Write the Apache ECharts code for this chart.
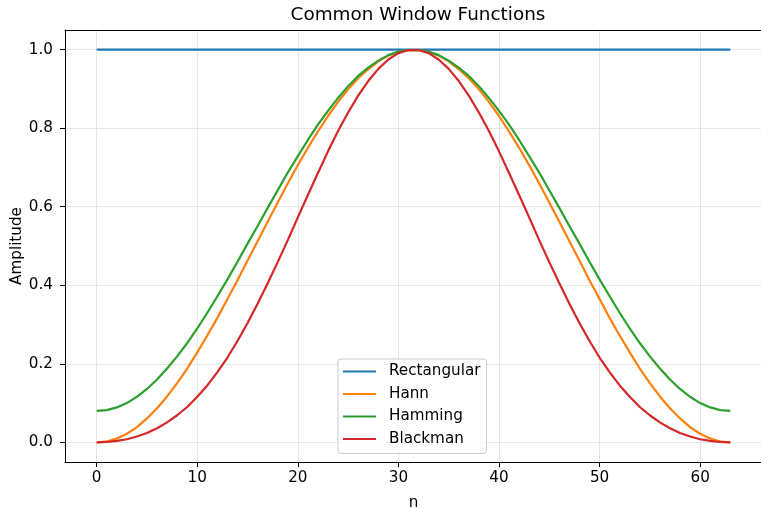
<!DOCTYPE html>
<html>
<head>
<meta charset="utf-8">
<script src="https://cdn.jsdelivr.net/npm/echarts@6/dist/echarts.min.js"></script>
<style>
  html, body { margin: 0; padding: 0; background: #fff; }
  #container { width: 761px; height: 508px; }
</style>
</head>
<body>
<div id="container"></div>
<script>
"use strict";

// sample index n
const nValues = [
  0, 1, 2, 3, 4, 5, 6, 7, 8, 9, 10, 11, 12, 13, 14, 15,
  16, 17, 18, 19, 20, 21, 22, 23, 24, 25, 26, 27, 28, 29, 30, 31,
  32, 33, 34, 35, 36, 37, 38, 39, 40, 41, 42, 43, 44, 45, 46, 47,
  48, 49, 50, 51, 52, 53, 54, 55, 56, 57, 58, 59, 60, 61, 62, 63
];

const rectangular = [
  1, 1, 1, 1, 1, 1, 1, 1, 1, 1, 1, 1, 1, 1, 1, 1,
  1, 1, 1, 1, 1, 1, 1, 1, 1, 1, 1, 1, 1, 1, 1, 1,
  1, 1, 1, 1, 1, 1, 1, 1, 1, 1, 1, 1, 1, 1, 1, 1,
  1, 1, 1, 1, 1, 1, 1, 1, 1, 1, 1, 1, 1, 1, 1, 1
];

const hann = [
  0, 0.002, 0.010, 0.022, 0.039, 0.061, 0.087, 0.117, 0.151, 0.188, 0.229, 0.272, 0.317, 0.365, 0.413, 0.463,
  0.512, 0.562, 0.611, 0.659, 0.706, 0.750, 0.792, 0.831, 0.867, 0.899, 0.927, 0.950, 0.970, 0.985, 0.994, 0.999,
  0.999, 0.994, 0.985, 0.970, 0.950, 0.927, 0.899, 0.867, 0.831, 0.792, 0.750, 0.706, 0.659, 0.611, 0.562, 0.512,
  0.463, 0.413, 0.365, 0.317, 0.272, 0.229, 0.188, 0.151, 0.117, 0.087, 0.061, 0.039, 0.022, 0.010, 0.002, 0
];

const hamming = [
  0.080, 0.082, 0.089, 0.100, 0.116, 0.136, 0.160, 0.188, 0.219, 0.253, 0.290, 0.330, 0.372, 0.415, 0.460, 0.506,
  0.551, 0.597, 0.642, 0.687, 0.729, 0.770, 0.809, 0.844, 0.877, 0.907, 0.933, 0.954, 0.972, 0.986, 0.995, 0.999,
  0.999, 0.995, 0.986, 0.972, 0.954, 0.933, 0.907, 0.877, 0.844, 0.809, 0.770, 0.729, 0.687, 0.642, 0.597, 0.551,
  0.506, 0.460, 0.415, 0.372, 0.330, 0.290, 0.253, 0.219, 0.188, 0.160, 0.136, 0.116, 0.100, 0.089, 0.082, 0.080
];

const blackman = [
  0, 0.001, 0.004, 0.008, 0.015, 0.024, 0.036, 0.051, 0.069, 0.090, 0.116, 0.145, 0.179, 0.216, 0.258, 0.304,
  0.353, 0.405, 0.459, 0.515, 0.573, 0.630, 0.686, 0.741, 0.793, 0.840, 0.883, 0.920, 0.951, 0.975, 0.991, 0.999,
  0.999, 0.991, 0.975, 0.951, 0.920, 0.883, 0.840, 0.793, 0.741, 0.686, 0.630, 0.573, 0.515, 0.459, 0.405, 0.353,
  0.304, 0.258, 0.216, 0.179, 0.145, 0.116, 0.090, 0.069, 0.051, 0.036, 0.024, 0.015, 0.008, 0.004, 0.001, 0
];

const xTicks = [0, 10, 20, 30, 40, 50, 60];
const yTicks = [0, 0.2, 0.4, 0.6, 0.8, 1.0];

const seriesNames = ['Rectangular', 'Hann', 'Hamming', 'Blackman'];
const seriesColors = ['#1f77b4', '#ff7f0e', '#2ca02c', '#d62728'];
const seriesValues = [rectangular, hann, hamming, blackman];

const FONT = 'DejaVu Sans';

let myChart = echarts.init(document.getElementById('container'));

function pairs(values) {
  return nValues.map((n, i) => [n, values[i]]);
}

let option = {
  animation: false,
  backgroundColor: '#fff',
  title: {
    text: 'Common Window Functions',
    left: 413,
    top: 1,
    textAlign: 'center',
    textStyle: {
      fontFamily: FONT,
      fontSize: 18.4,
      fontWeight: 'normal',
      color: '#000',
    },
  },
  grid: {
    left: 65,
    top: 30,
    right: -1,
    bottom: 46,
    outerBoundsMode: 'none',
    containLabel: false,
  },
  legend: {
    orient: 'vertical',
    left: 338,
    top: 359,
    padding: [4, 6, 6, 5],
    itemGap: 5.5,
    itemWidth: 33,
    itemHeight: 2,
    icon: 'rect',
    backgroundColor: 'rgba(255,255,255,0.8)',
    borderColor: '#cccccc',
    borderWidth: 1,
    borderRadius: 3,
    data: seriesNames,
    textStyle: {
      fontFamily: FONT,
      fontSize: 15.2,
      color: '#000',
      lineHeight: 17,
      padding: [0, 0, 0, 8],
    },
  },
  xAxis: [
    {
      type: 'value',
      min: -3.15,
      max: 66.15,
      name: 'n',
      nameLocation: 'middle',
      nameGap: 34,
      nameMoveOverlap: false,
      nameTextStyle: {
        fontFamily: FONT,
        fontSize: 15.2,
        color: '#000',
      },
      axisLine: {
        show: true,
        onZero: false,
        lineStyle: { color: '#000', width: 1 },
      },
      axisTick: {
        show: true,
        length: 5,
        customValues: xTicks,
        lineStyle: { color: '#000', width: 1 },
      },
      axisLabel: {
        customValues: xTicks,
        margin: 9,
        fontFamily: FONT,
        fontSize: 15.2,
        color: '#000',
      },
      splitLine: {
        show: true,
        lineStyle: { color: '#e6e6e6', width: 1 },
      },
    },
    {
      // top spine only
      type: 'value',
      position: 'top',
      min: -3.15,
      max: 66.15,
      axisLine: {
        show: true,
        onZero: false,
        lineStyle: { color: '#000', width: 1 },
      },
      axisTick: { show: false },
      axisLabel: { show: false },
      splitLine: { show: false },
    },
  ],
  yAxis: {
    type: 'value',
    min: -0.05,
    max: 1.05,
    name: 'Amplitude',
    nameLocation: 'middle',
    nameGap: 40,
    nameMoveOverlap: false,
    nameTextStyle: {
      fontFamily: FONT,
      fontSize: 15.2,
      color: '#000',
    },
    axisLine: {
      show: true,
      onZero: false,
      lineStyle: { color: '#000', width: 1 },
    },
    axisTick: {
      show: true,
      length: 5,
      customValues: yTicks,
      lineStyle: { color: '#000', width: 1 },
    },
    axisLabel: {
      customValues: yTicks,
      margin: 12,
      fontFamily: FONT,
      fontSize: 15.2,
      color: '#000',
      formatter: function (value) {
        return (+value).toFixed(1);
      },
    },
    splitLine: {
      show: true,
      lineStyle: { color: '#e6e6e6', width: 1 },
    },
  },
  series: seriesNames.map((name, i) => ({
    name: name,
    type: 'line',
    xAxisIndex: 0,
    data: pairs(seriesValues[i]),
    showSymbol: false,
    symbol: 'none',
    color: seriesColors[i],
    lineStyle: { color: seriesColors[i], width: 2.2 },
  })),
};

myChart.setOption(option);
</script>
</body>
</html>
